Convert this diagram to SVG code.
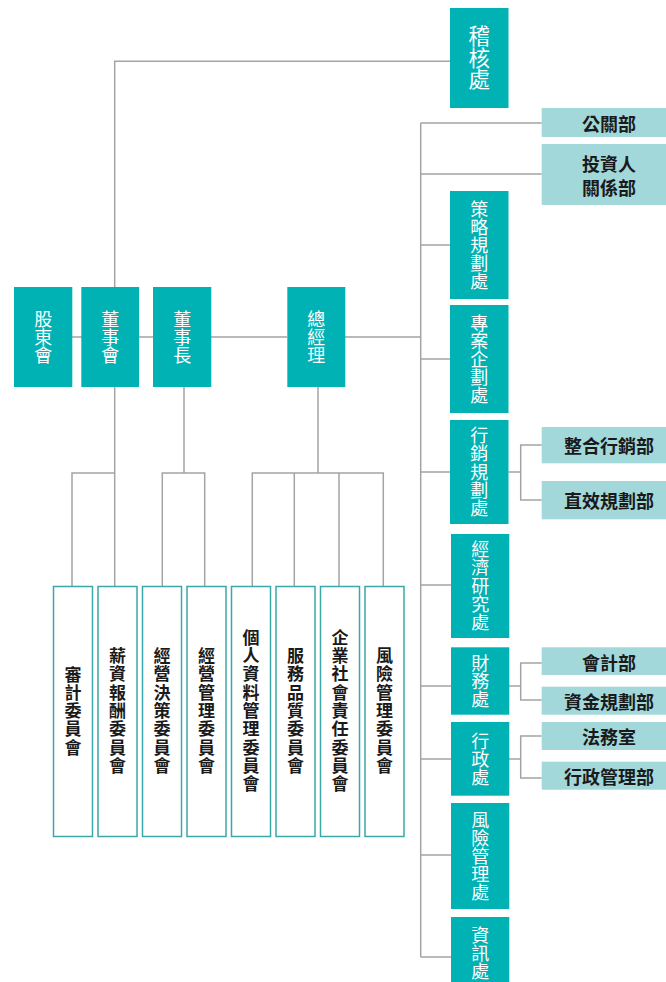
<svg xmlns="http://www.w3.org/2000/svg" width="666" height="982" viewBox="0 0 666 982">
<style>
.ln{stroke:#a4a4a4;stroke-width:1.5;fill:none}
.dk{fill:#00b2b4}
.lt{fill:#a3d8da}
.cm{fill:#fff;stroke:#3aa8a8;stroke-width:1.5}
.v{writing-mode:vertical-rl;text-anchor:middle;font-family:"Noto Sans CJK TC","Noto Sans CJK SC",sans-serif}
.wt{font-size:18px;fill:#fff}
.ct{font-size:17px;font-weight:700;fill:#1a1a1a;letter-spacing:1.3px}
.bt{font-family:"Noto Sans CJK TC","Noto Sans CJK SC",sans-serif;font-size:18px;font-weight:700;fill:#1a1a1a;text-anchor:middle;dominant-baseline:central}
</style>
<rect width="666" height="982" fill="#fff"/>
<g id="connectors">
<path class="ln" d="M114.7,386 V586 M114.7,287 V61.3 H450"/>
<path class="ln" d="M72,337 H287 M345,337 H420.7"/>
<path class="ln" d="M420.7,123 V957"/>
<path class="ln" d="M420.7,123 H541.7 M420.7,174 H541.7 M420.7,245 H450 M420.7,359 H450 M420.7,472 H450 M420.7,585 H451 M420.7,686 H451 M420.7,759 H451 M420.7,855 H451 M420.7,957 H451"/>
<path class="ln" d="M508.5,472 H520.7 M541.7,445 H520.7 V500 H541.7"/>
<path class="ln" d="M509,686 H520.7 M541.7,663 H520.7 V700 H541.7"/>
<path class="ln" d="M509,759 H520.7 M541.7,736 H520.7 V778 H541.7"/>
<path class="ln" d="M72,586 V473 H114.7"/>
<path class="ln" d="M184,386 V473 M162.3,586 V473 H204.7 V586"/>
<path class="ln" d="M318,386 V473 M252.3,586 V473 H383.3 V586 M294.3,473 V586 M339,473 V586"/>
</g>
<g id="n-audit"><rect class="dk" x="450" y="8" width="58.5" height="100"/><text class="v wt" x="479.2" y="57.8" style="font-size:21.5px">稽核處</text></g>
<g id="n-shareholders"><rect class="dk" x="14" y="287" width="58.3" height="100"/><text class="v wt" x="43.2" y="337">股東會</text></g>
<g id="n-board"><rect class="dk" x="81.3" y="287" width="57.8" height="100"/><text class="v wt" x="110.2" y="337">董事會</text></g>
<g id="n-chairman"><rect class="dk" x="153" y="287" width="58.3" height="100"/><text class="v wt" x="182.2" y="337">董事長</text></g>
<g id="n-president"><rect class="dk" x="287.3" y="287" width="58" height="100"/><text class="v wt" x="316.3" y="337">總經理</text></g>
<g id="n-pr"><rect class="lt" x="541.7" y="108" width="134.3" height="29"/><text class="bt" x="609" y="122.5">公關部</text></g>
<g id="n-ir"><rect class="lt" x="541.7" y="144" width="134.3" height="61"/><text class="bt"><tspan x="609" y="163">投資人</tspan><tspan x="609" y="187">關係部</tspan></text></g>
<g id="n-strategy"><rect class="dk" x="450" y="191" width="58.5" height="108"/><text class="v wt" x="479.2" y="245">策略規劃處</text></g>
<g id="n-project"><rect class="dk" x="450" y="305" width="58.5" height="108"/><text class="v wt" x="479.2" y="359">專案企劃處</text></g>
<g id="n-marketing"><rect class="dk" x="450" y="420" width="58.5" height="104"/><text class="v wt" x="479.2" y="472" style="letter-spacing:0.3px">行銷規劃處</text></g>
<g id="n-imc"><rect class="lt" x="541.7" y="427" width="134.3" height="36.3"/><text class="bt" x="609" y="445">整合行銷部</text></g>
<g id="n-direct"><rect class="lt" x="541.7" y="481" width="134.3" height="38.3"/><text class="bt" x="609" y="500">直效規劃部</text></g>
<g id="n-econ"><rect class="dk" x="451" y="534" width="58.3" height="104"/><text class="v wt" x="480.2" y="586" style="letter-spacing:0.3px">經濟研究處</text></g>
<g id="n-finance"><rect class="dk" x="451" y="647.3" width="58.3" height="67.4"/><text class="v wt" x="480.2" y="681">財務處</text></g>
<g id="n-accounting"><rect class="lt" x="541.7" y="647.3" width="134.3" height="27.7"/><text class="bt" x="609" y="661.5">會計部</text></g>
<g id="n-treasury"><rect class="lt" x="541.7" y="686.7" width="134.3" height="28"/><text class="bt" x="609" y="701">資金規劃部</text></g>
<g id="n-admin"><rect class="dk" x="451" y="722" width="58.3" height="73.7"/><text class="v wt" x="480.2" y="759">行政處</text></g>
<g id="n-legal"><rect class="lt" x="541.7" y="722" width="134.3" height="28"/><text class="bt" x="609" y="736">法務室</text></g>
<g id="n-adminmgmt"><rect class="lt" x="541.7" y="761.7" width="134.3" height="28"/><text class="bt" x="609" y="776">行政管理部</text></g>
<g id="n-risk"><rect class="dk" x="451" y="803" width="58.3" height="106"/><text class="v wt" x="480.2" y="856">風險管理處</text></g>
<g id="n-it"><rect class="dk" x="451" y="917" width="58.3" height="73"/><text class="v wt" x="480.2" y="953">資訊處</text></g>
<g id="c-audit"><rect class="cm" x="53.5" y="586.5" width="39" height="250"/><text class="v ct" x="73" y="711.3">審計委員會</text></g>
<g id="c-comp"><rect class="cm" x="98" y="586.5" width="39" height="250"/><text class="v ct" x="117.5" y="711.3">薪資報酬委員會</text></g>
<g id="c-bizdecision"><rect class="cm" x="142.5" y="586.5" width="39" height="250"/><text class="v ct" x="162" y="711.3">經營決策委員會</text></g>
<g id="c-bizmgmt"><rect class="cm" x="187" y="586.5" width="39" height="250"/><text class="v ct" x="206.5" y="711.3">經營管理委員會</text></g>
<g id="c-privacy"><rect class="cm" x="231.5" y="586.5" width="39" height="250"/><text class="v ct" x="251" y="711.3">個人資料管理委員會</text></g>
<g id="c-quality"><rect class="cm" x="276" y="586.5" width="39" height="250"/><text class="v ct" x="295.5" y="711.3">服務品質委員會</text></g>
<g id="c-csr"><rect class="cm" x="320.5" y="586.5" width="39" height="250"/><text class="v ct" x="340" y="711.3">企業社會責任委員會</text></g>
<g id="c-risk"><rect class="cm" x="365" y="586.5" width="39" height="250"/><text class="v ct" x="384.5" y="711.3">風險管理委員會</text></g>
</svg>
